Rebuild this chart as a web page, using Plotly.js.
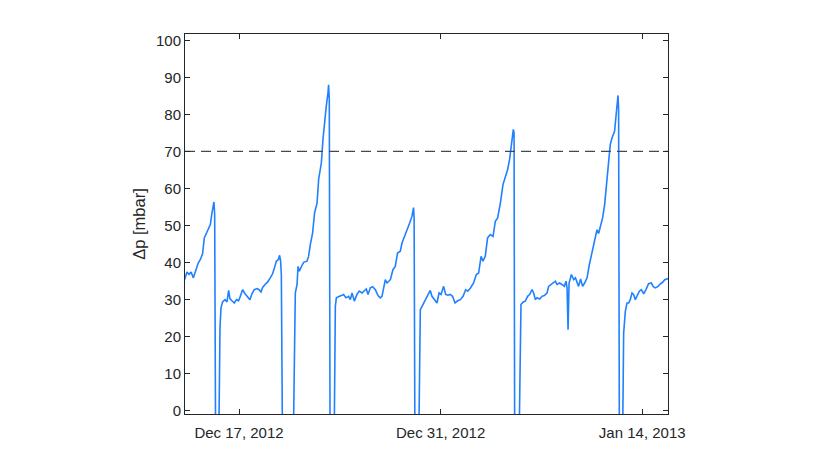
<!DOCTYPE html>
<html>
<head>
<meta charset="utf-8">
<script src="https://cdn.plot.ly/plotly-3.0.1.min.js"></script>
<style>html,body{margin:0;padding:0;background:#fff;}#chart{width:830px;height:467px;}</style>
</head>
<body>
<div id="chart"></div>
<script>
// Reference date for the day offsets below
const startDate = Date.UTC(2012, 11, 17);
// Time in days relative to Dec 17, 2012 00:00
const dayOffset = [
-3.80,-3.61,-3.47,-3.33,-3.17,-2.99,-2.83,-2.69,-2.53,-2.41,-2.29,-2.13,-1.99,-1.88,-1.74,-1.69,-1.63,-1.39,
-1.32,-1.25,-1.14,-0.97,-0.83,-0.72,-0.63,-0.49,-0.33,-0.17,-0.03,0.09,0.25,0.42,0.60,0.76,0.90,1.06,1.25,1.39,
1.53,1.64,1.81,1.99,2.17,2.33,2.45,2.59,2.73,2.82,2.89,2.94,3.01,3.79,
3.91,4.03,4.10,4.19,4.33,4.49,4.72,4.83,4.95,5.11,5.25,5.42,5.53,5.72,5.83,5.94,6.06,6.18,6.22,6.27,6.32,6.62,
6.69,6.76,6.92,7.10,7.26,7.43,7.61,7.73,7.85,8.01,8.19,8.35,8.54,8.70,8.84,8.96,9.12,9.28,9.47,9.65,9.81,9.93,
10.16,10.28,10.51,10.69,10.85,11.01,11.20,11.32,11.55,11.71,11.85,12.01,12.12,12.16,12.21,12.50,
12.54,12.59,12.71,12.87,13.01,13.13,13.28,13.40,13.56,13.75,13.89,14.03,14.21,14.35,14.51,14.67,14.83,15.00,
15.18,15.37,15.56,15.74,15.88,16.06,16.29,16.48,16.64,16.81,16.94,17.10,17.26,17.45,17.64,17.80,17.96,18.15,
18.33,18.49,18.65,18.79,18.89,18.98,19.05,19.10,19.14,19.47,
19.53,19.58,19.72,19.88,20.04,20.18,20.35,20.46,20.58,20.69,20.88,21.04,21.20,21.39,21.50,21.67,21.85,21.97,
22.08,22.26,22.43,22.59,22.71,22.78,22.85,22.92,23.08,23.24,23.36,23.47,23.58,23.72,23.86,24.00,24.17,24.33,
24.47,24.62,24.74,24.86,24.97,25.09,25.25,25.39,25.49,25.58,25.67,25.78,25.90,26.08,26.18,26.27,26.32,26.36,
26.41,26.65,
26.71,26.83,26.94,27.06,27.17,27.29,27.40,27.52,27.64,27.80,27.94,28.10,28.26,28.44,28.63,28.77,28.91,29.10,
29.26,29.42,29.56,29.72,29.81
];
// Differential pressure [mbar]
const deltaP = [
35.1,37.4,36.7,37.4,35.8,38.0,39.8,40.7,42.3,46.6,47.7,49.3,50.2,53.3,56.3,52.9,-3,-3,
22.3,27.7,29.3,29.9,29.3,32.4,30.2,29.6,29.0,29.9,29.6,30.8,32.6,31.5,30.8,29.9,31.5,32.6,32.9,32.6,
32.0,33.2,34.0,34.7,35.8,36.9,38.3,40.3,40.7,41.9,40.3,36.7,-3,-3,
31.7,34.0,38.9,37.6,38.8,40.0,40.3,41.6,44.8,47.9,53.4,56.0,62.4,66.9,73.2,78.6,82.2,85.8,88.0,84.0,-3,-3,
28.1,30.4,30.6,31.0,31.3,30.4,30.8,29.9,31.7,29.5,31.3,32.2,31.7,32.2,32.8,31.3,33.1,33.4,32.6,31.0,30.4,30.8,
35.3,34.4,35.3,38.0,38.9,42.5,43.0,45.2,47.5,48.8,50.6,52.4,54.8,52.0,-3,-3,
22.3,27.2,28.1,29.3,30.4,31.3,32.4,30.8,29.9,29.0,31.7,31.3,33.5,31.3,31.1,31.3,30.8,29.0,
29.6,29.9,30.8,32.6,32.2,33.0,34.4,36.7,37.1,41.6,40.3,41.6,46.6,47.5,47.0,51.1,52.0,56.0,
61.0,62.8,65.0,67.8,70.5,73.6,75.9,75.0,-3,-3,
24.0,28.6,29.2,29.5,30.8,31.3,32.6,31.7,29.9,30.4,30.1,30.8,31.0,31.7,33.5,34.0,34.4,34.9,
34.0,34.4,34.0,33.5,34.9,33.1,21.8,34.4,36.7,35.3,35.8,34.4,33.5,35.5,33.5,34.4,35.8,39.4,
42.1,44.8,47.0,48.8,47.8,49.7,52.0,55.6,59.6,64.2,67.8,71.8,73.6,75.4,79.5,83.1,85.1,81.3,
-3,-3,
20.9,26.8,29.0,29.0,29.9,31.7,31.3,29.9,30.8,32.2,32.6,31.5,32.6,34.2,34.4,33.4,33.1,33.5,
34.2,34.6,35.3,35.6,35.6
];
const threshold = 70;
const xRangeDays = [-3.75, 29.79];
const yRange = [-1, 101.7];
const yTicks = [0,10,20,30,40,50,60,70,80,90,100];

function toDate(d) {
  return new Date(startDate + d * 86400000).toISOString().slice(0, 19).replace('T', ' ');
}
const xDates = dayOffset.map(toDate);
const xRange = xRangeDays.map(toDate);

const axisColor = '#262626';
const fontFam = 'Liberation Sans, Arial, Helvetica, sans-serif';

const traces = [{
  x: xDates, y: deltaP, type: 'scatter', mode: 'lines',
  line: {color: '#2080ff', width: 1.6}, hoverinfo: 'skip', showlegend: false
}, {
  x: xRange, y: [threshold, threshold], type: 'scatter', mode: 'lines',
  line: {color: '#474747', width: 1.2, dash: '10px,6px'}, hoverinfo: 'skip', showlegend: false
}];

const layout = {
  width: 830, height: 467,
  margin: {l: 185, r: 162, t: 34, b: 53},
  paper_bgcolor: '#ffffff', plot_bgcolor: '#ffffff',
  font: {family: fontFam, size: 15, color: axisColor},
  showlegend: false,
  xaxis: {
    type: 'date', range: xRange, autorange: false,
    tick0: toDate(0), dtick: 14 * 86400000, tickformat: '%b %d, %Y',
    ticks: 'inside', ticklen: 5, tickcolor: axisColor, tickwidth: 1,
    showline: true, linecolor: axisColor, linewidth: 1, mirror: 'ticks',
    showgrid: false, zeroline: false, ticklabelstandoff: 5,
    tickfont: {family: fontFam, size: 15, color: axisColor}
  },
  yaxis: {
    range: yRange, autorange: false,
    tickmode: 'array', tickvals: yTicks, ticktext: yTicks.map(String),
    ticks: 'inside', ticklen: 5, tickcolor: axisColor, tickwidth: 1,
    showline: true, linecolor: axisColor, linewidth: 1, mirror: 'ticks',
    showgrid: false, zeroline: false,
    tickfont: {family: fontFam, size: 15, color: axisColor},
    title: {text: 'Δp [mbar]', font: {family: fontFam, size: 16.5, color: axisColor}, standoff: 6}
  }
};

Plotly.newPlot('chart', traces, layout, {staticPlot: true, displayModeBar: false});
</script>
</body>
</html>
